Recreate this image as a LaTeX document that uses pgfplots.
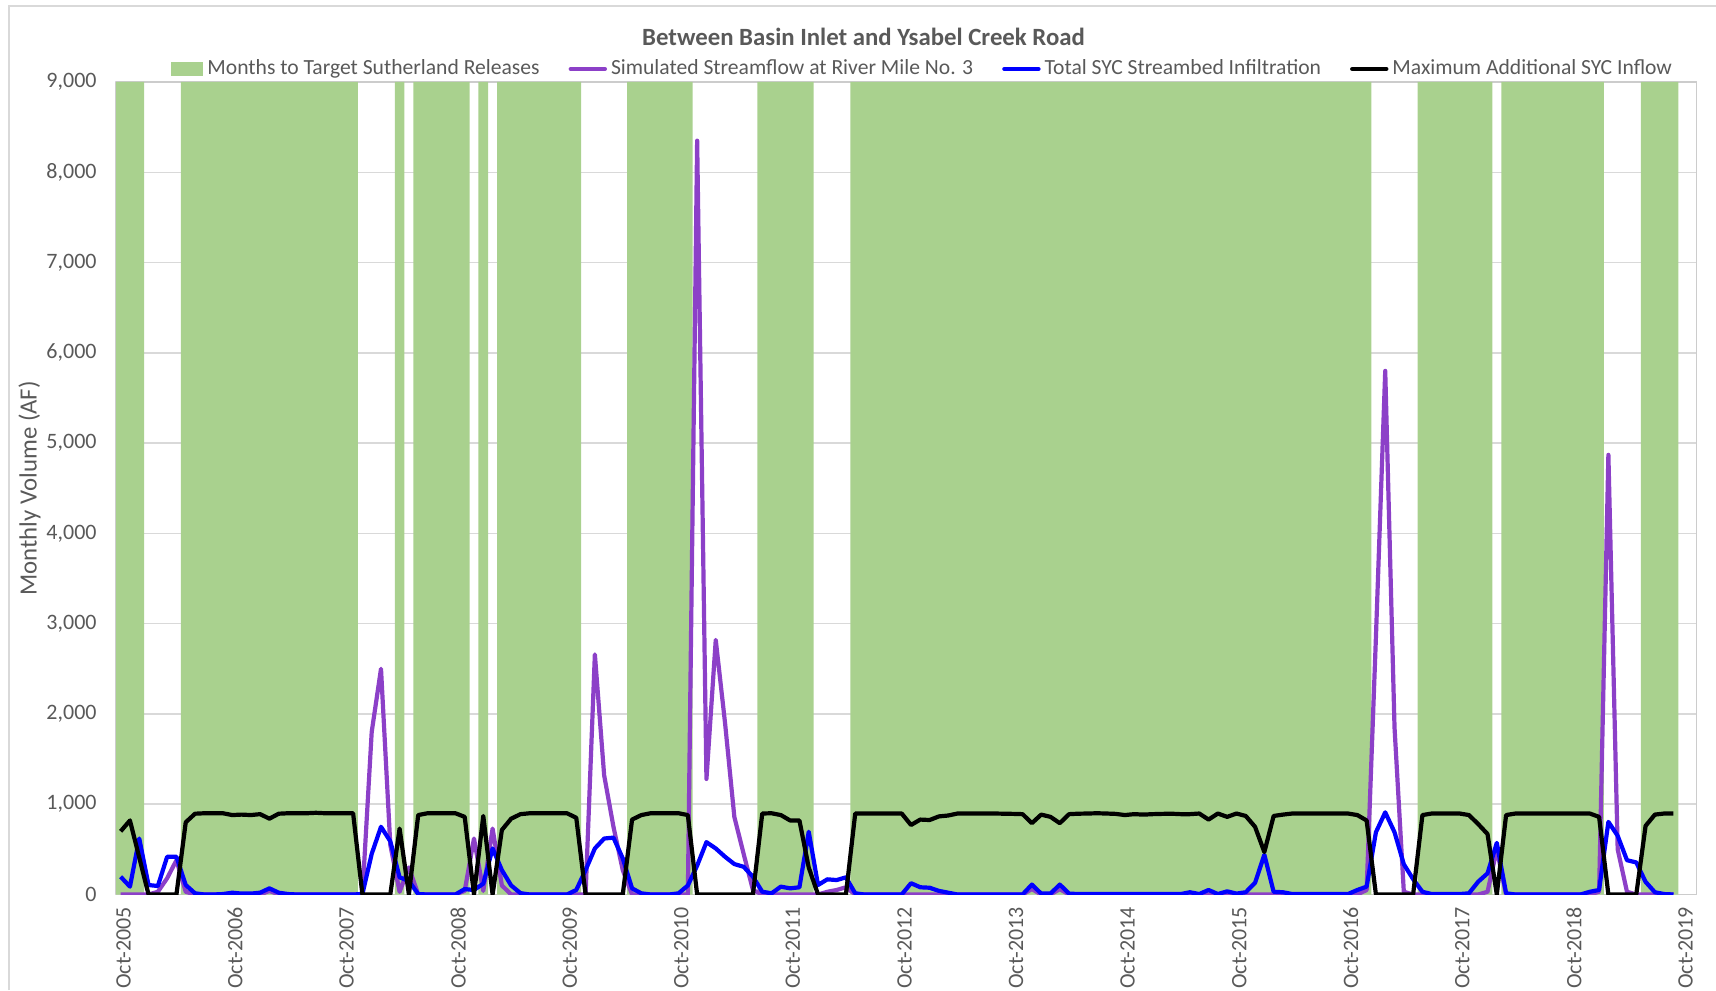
\documentclass[border=0pt]{standalone}
\usepackage{fontspec}
\setmainfont{Carlito}
\usepackage{pgfplots}
\usepackage{pgfplotstable}
\pgfplotsset{compat=1.18}
\definecolor{sgreen}{HTML}{A9D18E}
\definecolor{spurple}{RGB}{140,64,200}
\definecolor{sblue}{RGB}{0,0,255}
\definecolor{tgray}{HTML}{595959}
\definecolor{ggray}{HTML}{D9D9D9}
\definecolor{agray}{HTML}{CCCCCC}

\pgfplotstableread{
i G P U B
0 9000 0 197 700
1 9000 0 87 820
2 9000 0 620 410
3 0 0 105 0
4 0 30 94 0
5 0 180 418 0
6 0 380 418 0
7 9000 30 105 800
8 9000 0 13 895
9 9000 0 0 900
10 9000 0 0 900
11 9000 0 5 900
12 9000 0 20 880
13 9000 0 10 885
14 9000 0 10 880
15 9000 0 20 890
16 9000 40 68 840
17 9000 0 20 895
18 9000 0 5 900
19 9000 0 0 900
20 9000 0 0 900
21 9000 0 0 905
22 9000 0 0 900
23 9000 0 0 900
24 9000 0 0 900
25 9000 0 0 900
26 0 0 5 0
27 0 1800 450 0
28 0 2500 750 0
29 0 550 590 0
30 9000 30 190 730
31 0 300 150 0
32 9000 0 5 880
33 9000 0 0 900
34 9000 0 0 900
35 9000 0 0 900
36 9000 0 0 900
37 9000 40 60 860
38 0 620 50 0
39 9000 40 120 870
40 0 730 510 0
41 9000 100 270 715
42 9000 0 100 840
43 9000 0 15 890
44 9000 0 0 900
45 9000 0 0 900
46 9000 0 0 900
47 9000 0 0 900
48 9000 0 0 900
49 9000 0 50 850
50 0 0 270 0
51 0 2660 510 0
52 0 1320 620 0
53 0 750 630 0
54 0 270 400 0
55 9000 0 68 830
56 9000 0 13 880
57 9000 0 0 900
58 9000 0 0 900
59 9000 0 0 900
60 9000 0 13 900
61 9000 0 100 880
62 0 8350 320 0
63 0 1280 580 0
64 0 2820 510 0
65 0 1900 418 0
66 0 860 337 0
67 0 450 307 0
68 0 50 197 0
69 9000 0 31 897
70 9000 0 13 900
71 9000 0 87 880
72 9000 0 68 820
73 9000 0 80 820
74 9000 0 695 300
75 0 0 105 0
76 0 30 168 0
77 0 50 160 0
78 0 80 190 0
79 9000 0 13 897
80 9000 0 0 897
81 9000 0 0 897
82 9000 0 0 897
83 9000 0 0 897
84 9000 0 0 897
85 9000 0 125 770
86 9000 0 80 830
87 9000 0 75 825
88 9000 0 40 865
89 9000 0 20 875
90 9000 0 0 897
91 9000 0 0 897
92 9000 0 0 897
93 9000 0 0 897
94 9000 0 0 897
95 9000 0 0 895
96 9000 0 0 893
97 9000 0 0 890
98 9000 60 110 790
99 9000 0 10 885
100 9000 0 10 860
101 9000 60 110 790
102 9000 0 10 890
103 9000 0 5 895
104 9000 0 5 897
105 9000 0 5 900
106 9000 0 5 897
107 9000 0 5 893
108 9000 0 5 880
109 9000 0 5 890
110 9000 0 5 885
111 9000 0 5 890
112 9000 0 5 893
113 9000 0 5 895
114 9000 0 5 890
115 9000 0 25 890
116 9000 0 5 897
117 9000 0 50 830
118 9000 0 5 897
119 9000 0 35 860
120 9000 0 10 897
121 9000 0 25 870
122 9000 0 130 750
123 9000 0 440 470
124 9000 0 30 870
125 9000 0 25 885
126 9000 0 5 897
127 9000 0 5 897
128 9000 0 5 897
129 9000 0 5 897
130 9000 0 5 897
131 9000 0 5 897
132 9000 0 5 897
133 9000 0 50 880
134 9000 50 87 820
135 0 2850 690 0
136 0 5800 910 0
137 0 1850 690 0
138 0 30 335 0
139 0 0 170 0
140 9000 0 30 880
141 9000 0 5 897
142 9000 0 5 897
143 9000 0 5 897
144 9000 0 5 897
145 9000 0 13 880
146 9000 0 142 780
147 9000 30 234 670
148 0 500 572 0
149 9000 0 13 880
150 9000 0 0 897
151 9000 0 0 897
152 9000 0 0 897
153 9000 0 0 897
154 9000 0 0 897
155 9000 0 0 897
156 9000 0 0 897
157 9000 0 0 897
158 9000 0 30 897
159 9000 30 50 860
160 0 4870 805 0
161 0 500 650 0
162 0 30 380 0
163 0 0 355 0
164 9000 0 140 760
165 9000 0 25 885
166 9000 0 5 897
167 9000 0 0 897
}\flows

\begin{document}
\begin{tikzpicture}
\useasboundingbox (0,0) rectangle (858pt,495pt);
\draw[ggray, line width=0.75pt] (4.5pt,0) -- (4.5pt,492pt) -- (858pt,492pt);
\node[font=\bfseries\fontsize{12.4}{15}\selectfont, text=tgray] at (431.75pt,476.5pt) {Between Basin Inlet and Ysabel Creek Road};
\begin{axis}[
  at={(58pt,47.75pt)}, anchor=south west,
  scale only axis, width=790.35pt, height=406.25pt,
  xmin=-0.5, xmax=169.5, ymin=0, ymax=9000,
  xtick={0,12,...,168},
  xticklabels={Oct-2005,Oct-2006,Oct-2007,Oct-2008,Oct-2009,Oct-2010,Oct-2011,Oct-2012,Oct-2013,Oct-2014,Oct-2015,Oct-2016,Oct-2017,Oct-2018,Oct-2019},
  xticklabel style={rotate=90, anchor=east, font=\fontsize{11}{13}\selectfont, text=tgray, xshift=-2.7pt, yshift=-1.4pt},
  ytick={0,1000,...,9000},
  scaled y ticks=false,
  yticklabel style={font=\fontsize{11}{13}\selectfont, text=tgray, xshift=-6.2pt, /pgf/number format/.cd, 1000 sep={,}, assume math mode=true},
  ymajorgrids, grid style={ggray, line width=0.75pt},
  major tick length=0pt,
  axis line style={agray, line width=0.75pt},
  ylabel={Monthly Volume (AF)},
  ylabel style={at={(axis description cs:-0.0547,0.5)}, anchor=center, font=\fontsize{12.4}{14}\selectfont, text=tgray},
  legend columns=4,
  legend style={at={(0.5110,1.0160)}, anchor=center, draw=none, fill=none, font=\fontsize{10.8}{12.8}\selectfont, text=tgray, inner sep=0pt, /tikz/every even column/.append style={column sep=12.5pt}},
  line join=round,
]
\addplot[ybar, bar width=1.04, bar shift=0pt, fill=sgreen, draw=none,
  legend image code/.code={\fill[sgreen] (0pt,-3.5pt) rectangle (16pt,3.5pt);}] table[x=i,y=G] {\flows};
\addlegendentry{Months to Target Sutherland Releases}
\addplot[spurple, line width=2.1pt, mark=none,
  legend image code/.code={\draw[spurple, line width=2.2pt, line cap=round] (0pt,0pt) -- (17pt,0pt);}] table[x=i,y=P] {\flows};
\addlegendentry{Simulated Streamflow at River Mile No. 3}
\addplot[sblue, line width=2.1pt, mark=none,
  legend image code/.code={\draw[sblue, line width=2.2pt, line cap=round] (0pt,0pt) -- (17pt,0pt);}] table[x=i,y=U] {\flows};
\addlegendentry{Total SYC Streambed Infiltration}
\addplot[black, line width=2.1pt, mark=none,
  legend image code/.code={\draw[black, line width=2.2pt, line cap=round] (0pt,0pt) -- (17pt,0pt);}] table[x=i,y=B] {\flows};
\addlegendentry{Maximum Additional SYC Inflow}
\end{axis}
\end{tikzpicture}
\end{document}
